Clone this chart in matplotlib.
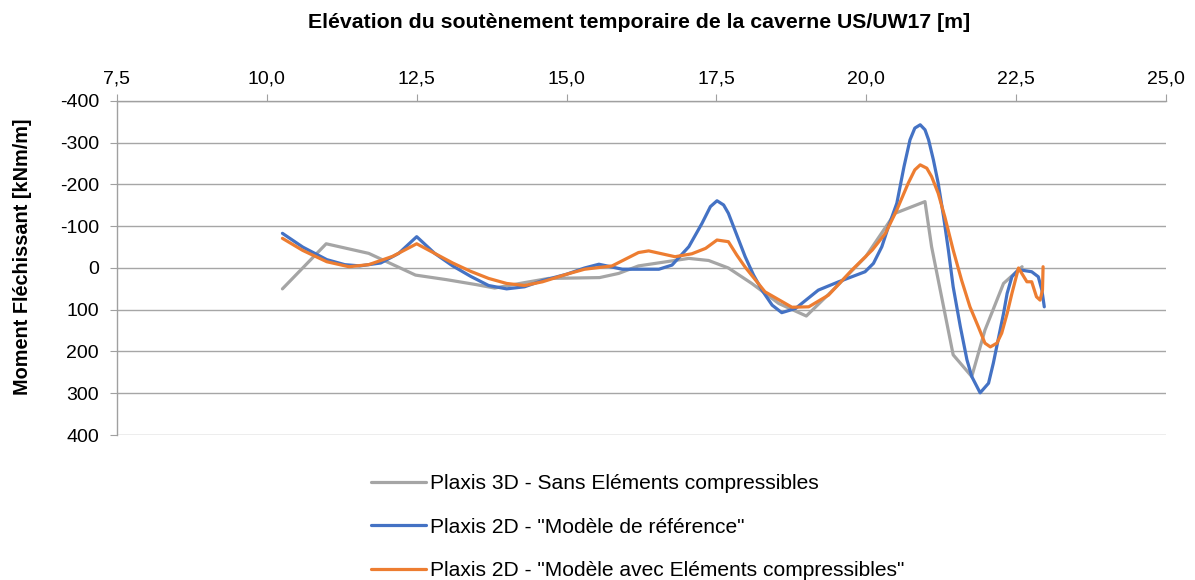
import matplotlib

matplotlib.use("Agg")
import matplotlib.pyplot as plt
from matplotlib.ticker import FuncFormatter, MultipleLocator

plt.rcParams["font.family"] = ["Liberation Sans", "DejaVu Sans"]

# Plaxis 3D - Sans Eléments compressibles
x_3d = [10.26, 10.99, 11.7, 12.48, 13.0, 13.5, 13.8, 14.3, 14.7, 15.55, 15.87,
        16.2, 17.04, 17.37, 17.7, 18.09, 18.54, 19.0, 19.5, 19.99, 20.48, 20.98,
        21.09, 21.45, 21.76, 21.98, 22.29, 22.6]
m_3d = [50, -58, -35, 17, 28, 40, 48, 35, 25, 23, 13,
        -5, -23, -18, 0, 37, 85, 115, 45, -27, -131, -159,
        -51, 208, 260, 149, 37, -3]

# Plaxis 2D - "Modèle de référence"
x_ref = [10.26, 10.6, 11.0, 11.3, 11.55, 11.9, 12.2, 12.5, 12.8, 13.1, 13.4,
         13.7, 14.0, 14.3, 14.6, 15.0, 15.3, 15.54, 15.93, 16.54, 16.76, 17.04,
         17.15, 17.26, 17.4, 17.51, 17.62, 17.7, 17.84, 17.98, 18.12, 18.26,
         18.43, 18.59, 18.82, 19.2, 19.54, 19.98, 20.12, 20.26, 20.37, 20.51,
         20.63, 20.73, 20.81, 20.9, 20.98, 21.04, 21.12, 21.2, 21.29, 21.37,
         21.45, 21.57, 21.68, 21.76, 21.9, 22.04, 22.12, 22.2, 22.29, 22.35,
         22.43, 22.54, 22.76, 22.87, 22.93, 22.97]
m_ref = [-83, -50, -20, -8, -5, -12, -35, -75, -35, -5, 20,
         42, 50, 45, 30, 15, 0, -9, 3, 3, -7, -51,
         -79, -107, -147, -161, -151, -131, -79, -27, 17, 53,
         89, 107, 97, 53, 33, 9, -11, -51, -99, -155,
         -243, -307, -335, -343, -331, -307, -259, -203, -123, -43,
         45, 141, 220, 260, 299, 276, 228, 172, 109, 61,
         21, 4, 9, 21, 53, 93]

# Plaxis 2D - "Modèle avec Eléments compressibles"
x_comp = [10.26, 10.6, 11.0, 11.37, 11.7, 12.1, 12.5, 12.8, 13.1, 13.4, 13.7,
          14.0, 14.3, 14.6, 15.0, 15.3, 15.76, 16.2, 16.37, 16.81, 17.09, 17.32,
          17.51, 17.7, 17.84, 17.98, 18.31, 18.76, 19.04, 19.37, 19.76, 20.1,
          20.32, 20.51, 20.7, 20.81, 20.9, 21.01, 21.09, 21.2, 21.31, 21.45,
          21.59, 21.73, 21.87, 21.98, 22.07, 22.18, 22.26, 22.35, 22.43, 22.54,
          22.68, 22.76, 22.84, 22.9, 22.94, 22.95]
m_comp = [-71, -42, -15, -3, -8, -28, -58, -35, -12, 8, 25,
          37, 42, 33, 15, 3, -5, -37, -41, -27, -34, -47,
          -67, -63, -31, -2, 57, 94, 93, 65, 5, -43,
          -83, -139, -203, -235, -247, -239, -219, -179, -123, -43,
          29, 93, 141, 180, 189, 180, 156, 109, 61, 0,
          33, 33, 69, 77, 53, -3]

labels = ["Plaxis 3D - Sans Eléments compressibles",
          'Plaxis 2D - "Modèle de référence"',
          'Plaxis 2D - "Modèle avec Eléments compressibles"']
colors = ["#A5A5A5", "#4472C4", "#ED7D31"]

fig = plt.figure(figsize=(11.95, 5.8), dpi=100)
ax = fig.add_axes([0.0979, 0.25, 0.8778, 0.5759])

for xs, ys, lab, col in zip([x_3d, x_ref, x_comp], [m_3d, m_ref, m_comp], labels, colors):
    ax.plot(xs, ys, color=col, lw=2.3, label=lab,
            solid_joinstyle="round", solid_capstyle="round")

ax.set_xlim(7.5, 25.0)
ax.set_ylim(400, -400)
ax.xaxis.set_major_locator(MultipleLocator(2.5))
ax.yaxis.set_major_locator(MultipleLocator(100))
ax.xaxis.set_major_formatter(FuncFormatter(lambda v, p: f"{v:.1f}".replace(".", ",")))
ax.yaxis.set_major_formatter(FuncFormatter(lambda v, p: f"{int(round(v))}"))
ax.xaxis.tick_top()
ax.tick_params(axis="x", length=5, color="#A0A0A0", labelsize=14, pad=5, direction="out")
ax.tick_params(axis="y", length=5, color="#A0A0A0", labelsize=14, pad=8, direction="out")
ax.grid(axis="y", color="#A6A6A6", lw=1.0)
ax.set_axisbelow(True)
for s in ["bottom", "right"]:
    ax.spines[s].set_visible(False)
for s in ["top", "left"]:
    ax.spines[s].set_color("#A0A0A0")
    ax.spines[s].set_linewidth(1.0)

fig.text(0.535, 0.962, "Elévation du soutènement temporaire de la caverne US/UW17 [m]",
         ha="center", va="center", fontsize=15.3, fontweight="bold")
fig.text(0.019, 0.557, "Moment Fléchissant [kNm/m]", rotation=90,
         ha="center", va="center", fontsize=14.3, fontweight="bold")

ax.legend(loc="upper left", bbox_to_anchor=(0.3105, 0.183), bbox_transform=fig.transFigure,
          frameon=False, fontsize=15.1, handlelength=2.6, handletextpad=0.2,
          labelspacing=1.18, borderpad=0, borderaxespad=0)

fig.savefig("out.png", dpi=100)
